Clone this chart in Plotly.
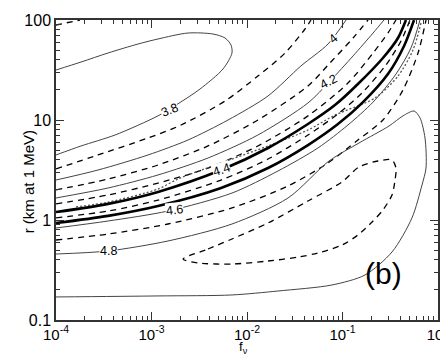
import numpy as np
import plotly.graph_objects as go

# contour lines: f_nu values and r values (km at 1 MeV)
f_37 = [1.0e-4, 1.78e-4]
r_37 = [89.1, 100]

f_38 = [1.0e-4, 1.83e-4, 3.51e-4, 7.22e-4, 1.17e-3, 2.41e-3, 4.41e-3, 5.89e-3, 6.80e-3,
        6.96e-3, 5.61e-3, 3.22e-3, 1.89e-3, 1.17e-3, 4.15e-4, 1.83e-4, 1.0e-4]
r_38 = [31.6, 38.0, 46.8, 57.5, 64.6, 74.1, 72.4, 66.1, 56.2,
        46.8, 32.4, 20.4, 14.5, 11.0, 7.08, 5.50, 4.47]

f_39 = [1.0e-4, 2.75e-4, 9.19e-4, 2.04e-3, 5.89e-3, 1.30e-2, 2.50e-2, 4.05e-2, 4.68e-2]
r_39 = [3.24, 4.47, 6.61, 8.91, 15.5, 27.5, 46.8, 81.3, 100]

f_40 = [1.0e-4, 2.75e-4, 9.19e-4, 2.41e-3, 6.33e-3, 1.66e-2, 3.67e-2, 7.05e-2, 0.109]
r_40 = [2.51, 3.16, 4.47, 6.31, 10.0, 17.4, 34.7, 57.5, 100]

f_41 = [1.0e-4, 3.51e-4, 1.17e-3, 3.91e-3, 1.30e-2, 4.35e-2, 7.40e-2, 0.129, 0.185]
r_41 = [2.00, 2.57, 3.55, 5.50, 10.0, 21.9, 37.2, 66.1, 100]

f_42 = [1.0e-4, 3.51e-4, 1.17e-3, 3.91e-3, 1.30e-2, 4.35e-2, 7.40e-2, 0.129, 0.209, 0.272]
r_42 = [1.66, 2.09, 2.82, 4.17, 7.08, 14.8, 24.5, 43.7, 74.1, 100]

f_43 = [1.0e-4, 3.51e-4, 1.17e-3, 3.91e-3, 1.30e-2, 4.35e-2, 0.114, 0.209, 0.299, 0.363]
r_43 = [1.45, 1.78, 2.34, 3.31, 5.50, 11.0, 23.4, 46.8, 74.1, 100]

f_thick1 = [1.0e-4, 3.51e-4, 1.17e-3, 5.35e-3, 1.66e-2, 4.35e-2, 8.34e-2, 0.145, 0.265, 0.381, 0.462]
r_thick1 = [1.20, 1.45, 1.91, 3.16, 5.25, 9.12, 14.1, 22.9, 41.7, 66.1, 100]

f_45 = [1.0e-4, 3.51e-4, 1.17e-3, 5.35e-3, 1.66e-2, 4.35e-2, 8.97e-2, 0.164, 0.285, 0.410, 0.509]
r_45 = [1.05, 1.23, 1.58, 2.51, 4.07, 7.08, 11.5, 19.1, 35.5, 61.7, 100]

f_thick2 = [1.0e-4, 3.51e-4, 1.17e-3, 5.35e-3, 1.66e-2, 4.35e-2, 8.97e-2, 0.164, 0.299, 0.441, 0.561]
r_thick2 = [0.933, 1.10, 1.38, 2.09, 3.31, 5.62, 9.12, 15.1, 28.8, 55.0, 100]

f_46 = [1.0e-4, 3.51e-4, 1.49e-3, 6.96e-3, 2.11e-2, 5.53e-2, 0.114, 0.209, 0.363, 0.521, 0.648]
r_46 = [0.832, 0.977, 1.23, 1.86, 3.09, 5.25, 8.91, 15.1, 28.8, 52.5, 100]

f_dot = [1.62e-4, 3.51e-4, 1.17e-3, 1.89e-3, 5.35e-3, 1.66e-2, 4.35e-2, 8.34e-2, 0.219, 0.381, 0.547, 0.664]
r_dot = [1.35, 1.51, 2.04, 2.57, 3.72, 5.50, 7.94, 11.2, 16.6, 27.5, 50.1, 93.3]

f_47 = [1.0e-4, 3.51e-4, 1.49e-3, 6.96e-3, 2.69e-2, 7.05e-2, 0.145, 0.265, 0.430, 0.618, 0.749]
r_47 = [0.631, 0.724, 0.912, 1.32, 2.19, 3.72, 6.31, 10.0, 20.0, 46.8, 100]

f_48 = [1.0e-4, 3.51e-4, 1.49e-3, 6.96e-3, 2.69e-2, 7.22e-2, 0.149, 0.307, 0.430, 0.561, 0.648,
        0.731, 0.749, 0.680, 0.534, 0.330, 0.172, 7.76e-2, 2.11e-2, 6.96e-3, 1.17e-3, 1.0e-4]
r_48 = [0.457, 0.490, 0.617, 0.912, 1.66, 3.89, 5.89, 8.71, 11.0, 12.3, 10.5,
        6.61, 3.31, 2.24, 1.05, 0.479, 0.282, 0.224, 0.195, 0.178, 0.174, 0.170]

f_49 = [2.14e-3, 3.91e-3, 6.96e-3, 1.66e-2, 4.35e-2, 9.88e-2, 0.149, 0.235, 0.330, 0.363, 0.355,
        0.330, 0.265, 0.204, 0.145, 9.88e-2, 5.53e-2, 3.50e-2, 1.66e-2, 6.96e-3, 3.07e-3, 2.14e-3]
r_49 = [0.407, 0.513, 0.646, 0.933, 1.55, 2.40, 3.39, 3.89, 3.98, 3.31, 2.51,
        1.78, 1.26, 0.955, 0.708, 0.562, 0.468, 0.427, 0.389, 0.363, 0.372, 0.407]

# contour labels: text, f, r, angle
label_text = ["3.8", "4", "4.2", "4.4", "4.6", "4.8"]
label_f = [1.56e-3, 0.0796, 0.0705, 5.35e-3, 1.76e-3, 3.51e-4]
label_r = [12.6, 64.6, 24.0, 3.16, 1.26, 0.490]
label_angle = [-22, -40, -28, -18, -6, 0]

thin = dict(color="#444444", width=1)
dashed = dict(color="black", width=1.3, dash="6px,5px")
thick = dict(color="black", width=2.6)
dotted = dict(color="#555555", width=1.3, dash="2px,2px")

curves = [
    (f_37, r_37, dashed), (f_38, r_38, thin), (f_39, r_39, dashed), (f_40, r_40, thin),
    (f_41, r_41, dashed), (f_42, r_42, thin), (f_43, r_43, dashed), (f_dot, r_dot, dotted),
    (f_thick1, r_thick1, thick), (f_45, r_45, dashed), (f_thick2, r_thick2, thick),
    (f_46, r_46, thin), (f_47, r_47, dashed), (f_48, r_48, thin), (f_49, r_49, dashed),
]

fig = go.Figure()
for fx, ry, ln in curves:
    fig.add_trace(go.Scatter(x=fx, y=ry, mode="lines", line=dict(shape="spline", smoothing=0.8, **ln),
                             showlegend=False, hoverinfo="skip", cliponaxis=True))

for t, fx, ry, a in zip(label_text, label_f, label_r, label_angle):
    fig.add_annotation(x=np.log10(fx), y=np.log10(ry), text=t, showarrow=False, textangle=a,
                       font=dict(size=12.5, color="black"), bgcolor="white", borderpad=0)

fig.add_annotation(x=0.911, y=0.093, xref="paper", yref="paper", text="(b)", showarrow=False,
                   font=dict(size=30, color="black"))

# axis titles
fig.add_annotation(x=0.49, y=-0.128, xref="paper", yref="paper", text="f<sub>ν</sub>", showarrow=False,
                   font=dict(size=13, color="black"))
fig.add_annotation(x=-0.1, y=0.46, xref="paper", yref="paper", text="r (km at 1 MeV)", showarrow=False,
                   textangle=-90, font=dict(size=15, color="black"))

x_minor = [m * 10.0 ** e for e in range(-4, 0) for m in range(2, 10)]
y_minor = [m * 10.0 ** e for e in range(-1, 2) for m in range(2, 10)]

axis_style = dict(type="log", showline=True, linecolor="#333333", linewidth=1.5, mirror="allticks",
                  ticks="inside", ticklen=8, tickcolor="#333333", tickwidth=1, showgrid=False,
                  zeroline=False, automargin=False)

fig.update_layout(
    width=448, height=354,
    margin=dict(l=48, r=18, t=12, b=42),
    paper_bgcolor="white", plot_bgcolor="white",
    font=dict(family="Liberation Sans, Arial, sans-serif", color="black"),
    xaxis=dict(range=[-4, 0], tickmode="array",
               tickvals=[1e-4, 1e-3, 1e-2, 1e-1, 1],
               ticktext=["10<sup>-4</sup>", "10<sup>-3</sup>", "10<sup>-2</sup>", "10<sup>-1</sup>", "10<sup>0</sup>"],
               minor=dict(tickmode="array", tickvals=x_minor, ticks="inside", ticklen=4, tickcolor="#333333"),
               tickfont=dict(size=15, color="black"),
               **axis_style),
    yaxis=dict(range=[-1, 2], tickmode="array",
               tickvals=[0.1, 1, 10, 100], ticktext=["0.1", "1", "10", "100"],
               minor=dict(tickmode="array", tickvals=y_minor, ticks="inside", ticklen=4, tickcolor="#333333"),
               tickfont=dict(size=16, color="black"),
               **axis_style),
)

fig.write_html("out.html")
